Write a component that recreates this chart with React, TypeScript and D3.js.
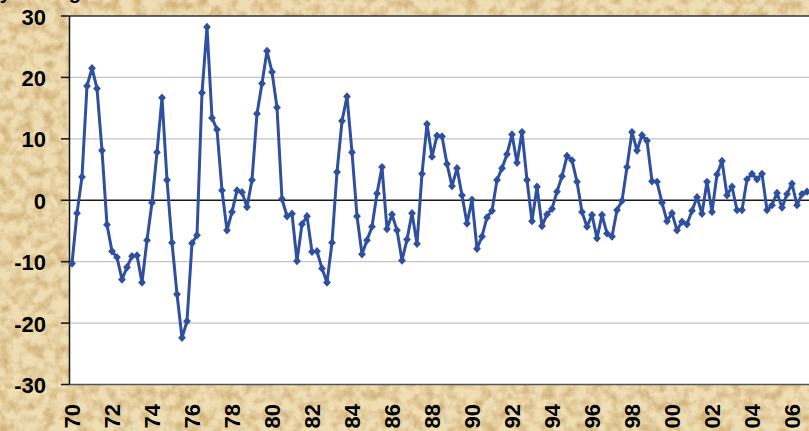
import React from "react";
import * as d3 from "d3";

const yearLabels = ["70","72","74","76","78","80","82","84","86","88","90","92","94","96","98","00","02","04","06"];
const yTicks = [30, 20, 10, 0, -10, -20, -30];
const values = [
  -10.3, -2.1, 3.8, 18.6, 21.5, 18.2, 8.1, -4.0,
  -8.3, -9.3, -12.9, -10.9, -9.1, -9.0, -13.4, -6.5,
  -0.4, 7.8, 16.7, 3.3, -6.9, -15.3, -22.4, -19.7,
  -7.0, -5.7, 17.5, 28.2, 13.4, 11.5, 1.6, -4.9,
  -1.9, 1.6, 1.3, -1.1, 3.3, 14.1, 19.0, 24.3,
  20.9, 15.1, 0.2, -2.6, -2.2, -9.9, -3.9, -2.6,
  -8.4, -8.3, -11.1, -13.4, -6.9, 4.6, 12.9, 16.9,
  7.8, -2.6, -8.8, -6.5, -4.3, 1.1, 5.4, -4.7,
  -2.3, -4.9, -9.8, -6.4, -2.1, -7.1, 4.3, 12.4,
  7.1, 10.5, 10.4, 5.9, 2.3, 5.2, 0.8, -3.8,
  0.1, -7.9, -5.9, -2.8, -1.7, 3.3, 5.2, 7.5,
  10.7, 6.1, 11.1, 3.3, -3.4, 2.2, -4.2, -2.3,
  -1.4, 1.4, 3.9, 7.2, 6.5, 3.0, -1.9, -4.3,
  -2.4, -6.2, -2.4, -5.4, -5.9, -1.6, -0.1, 5.4,
  11.1, 8.1, 10.6, 9.7, 3.1, 3.0, -0.4, -3.4,
  -2.1, -4.9, -3.5, -3.9, -1.7, 0.5, -2.2, 3.0,
  -1.9, 4.2, 6.4, 0.8, 2.2, -1.6, -1.6, 3.4,
  4.3, 3.4, 4.3, -1.6, -0.8, 1.2, -1.2, 1.0,
  2.7, -0.8, 1.0, 1.4
];

const W = 809;
const H = 431;
const plotLeft = 69.5;
const plotRight = 809.5;
const plotTop = 16;
const plotBottom = 384.5;
const lineColor = "#2F4F9F";
const font = "'Liberation Sans', Arial, sans-serif";

export default function App() {
  const idx = values.map((_, i) => i);
  const x = d3.scaleBand<number>().domain(idx).range([plotLeft, plotRight]);
  const cx = (i: number) => (x(i) as number) + x.bandwidth() / 2;
  const y = d3.scaleLinear().domain([-30, 30]).range([plotBottom, plotTop]);
  const line = d3.line<number>().x((_, i) => cx(i)).y((d) => y(d));
  const diamond = "M0,-4.2L3.9,0L0,4.2L-3.9,0Z";

  return (
    <svg width={W} height={H} style={{ position: "absolute", left: 0, top: 0 }} fontFamily={font}>
      <defs>
        <filter id="paper" x="0" y="0" width="100%" height="100%" colorInterpolationFilters="sRGB">
          <feTurbulence type="fractalNoise" baseFrequency="0.09" numOctaves="4" seed="5" result="noise" />
          <feColorMatrix in="noise" type="matrix"
            values="0 0 0 0 0.80  0 0 0 0 0.67  0 0 0 0 0.44  1.9 0 0 0 -0.72" result="spots" />
          <feComposite in="spots" in2="SourceGraphic" operator="over" />
        </filter>
      </defs>
      <rect x={0} y={0} width={W} height={H} fill="#EFDDB4" filter="url(#paper)" />
      <text x={-78} y={-1} fontSize={20} fontWeight="bold" fill="#000">Quarterly average</text>
      <rect x={plotLeft} y={plotTop} width={plotRight - plotLeft} height={plotBottom - plotTop} fill="#FFFFFF" />
      {yTicks.filter((t) => t !== 0 && Math.abs(t) !== 30).map((t) => (
        <line key={"g" + t} x1={plotLeft} x2={plotRight} y1={y(t)} y2={y(t)} stroke="#C4C4C4" strokeWidth={1.3} />
      ))}
      <line x1={plotLeft} x2={plotRight} y1={y(30)} y2={y(30)} stroke="#333" strokeWidth={1.5} />
      <line x1={plotLeft} x2={plotRight} y1={y(-30)} y2={y(-30)} stroke="#555" strokeWidth={1.5} />
      <line x1={plotLeft} x2={plotRight} y1={y(0)} y2={y(0)} stroke="#1a1a1a" strokeWidth={1.5} />
      <line x1={plotLeft} x2={plotLeft} y1={plotTop} y2={plotBottom} stroke="#111" strokeWidth={1.5} />
      {yTicks.map((t) => (
        <g key={"t" + t}>
          <line x1={61} x2={plotLeft} y1={y(t)} y2={y(t)} stroke="#111" strokeWidth={1.5} />
          <text x={46} y={y(t) + 8.5} textAnchor="end" fontSize={22} fontWeight="bold" fill="#000">{t}</text>
        </g>
      ))}
      {yearLabels.map((lab, k) => (
        <text key={lab + k} transform={`translate(${cx(k * 8) + 7.8},404) rotate(-90)`} textAnchor="end"
          fontSize={22} fontWeight="bold" fill="#000">{lab}</text>
      ))}
      <path d={line(values) || ""} fill="none" stroke={lineColor} strokeWidth={3} strokeLinejoin="round" />
      {values.map((v, i) => (
        <path key={"m" + i} d={diamond} transform={`translate(${cx(i)},${y(v)})`} fill={lineColor} />
      ))}
    </svg>
  );
}
